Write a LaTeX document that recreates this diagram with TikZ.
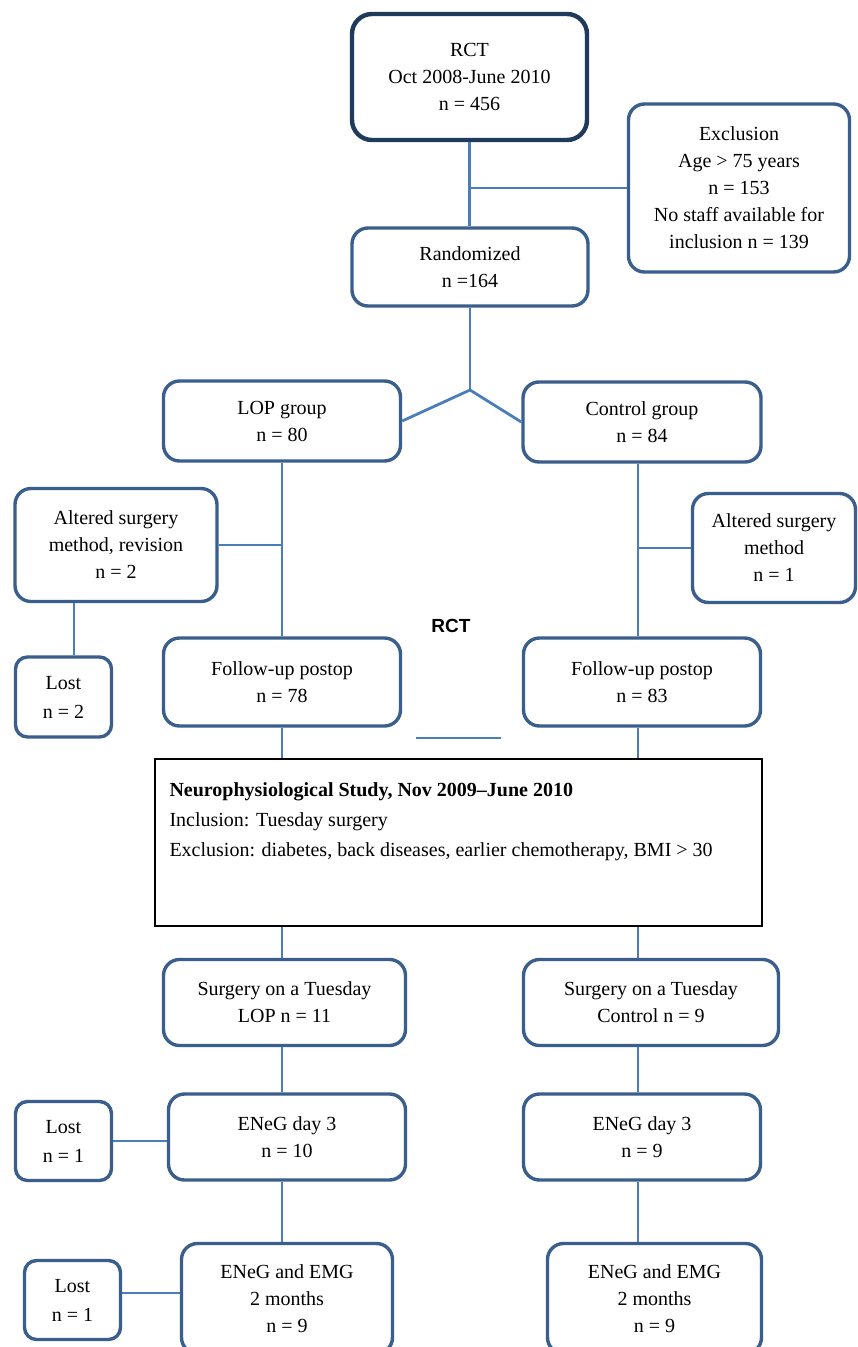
\documentclass[tikz,border=0pt]{standalone}
\usepackage{fontspec}
\setmainfont{Liberation Serif}
\setsansfont{Liberation Sans}
\usepackage{tikz}
\usetikzlibrary{shapes,arrows}
\usepackage{color}
\definecolor{boxblue}{HTML}{3A5F8D}
\definecolor{linkblue}{HTML}{4A7EBB}
\definecolor{rctnavy}{HTML}{1F3A5A}

\begin{document}
\begin{tikzpicture}[x=1pt, y=-1pt,
    box/.style={draw=boxblue, line width=3.4pt, rounded corners=16pt, align=center,
                inner sep=0pt, font=\fontsize{20}{27}\selectfont},
    link/.style={draw=linkblue, line width=2.8pt}]
                   % page
                   \useasboundingbox (0,0) rectangle (858,1347);
                   \clip (0,0) rectangle (858,1347);
                   \fill[white] (0,0) rectangle (858,1347);

                   % columns
                   \coordinate (lcol) at (282, 0);
                   \coordinate (ccol) at (638, 0);

                   % boxes, RCT part
                   \node[box, draw=rctnavy, line width=4.4pt, rounded corners=20pt,
                         minimum width=235pt, minimum height=126pt] (rct) at (469.5, 77)
                         {RCT\\Oct 2008-June 2010\\n = 456};
                   \node[box, minimum width=221pt, minimum height=168pt] (excl) at (739, 188)
                         {Exclusion\\Age > 75 years\\n = 153\\No staff available for\\inclusion n = 139};
                   \node[box, minimum width=236pt, minimum height=78pt] (rand) at (470, 267)
                         {Randomized\\n =164};
                   \coordinate (split) at (470, 390);
                   \node[box, minimum width=237pt, minimum height=80pt] (lop) at (282, 421)
                         {LOP group\\n = 80};
                   \node[box, minimum width=238pt, minimum height=80pt] (ctrl) at (642, 422)
                         {Control group\\n = 84};
                   \node[box, minimum width=202pt, minimum height=113pt] (altL) at (116, 545)
                         {Altered surgery\\method, revision\\n = 2};
                   \node[box, minimum width=163pt, minimum height=109pt] (altR) at (774, 548)
                         {Altered surgery\\method\\n = 1};
                   \node[box, rounded corners=12pt, minimum width=96pt, minimum height=80pt,
                         font=\fontsize{20}{29}\selectfont] (lost1) at (63.5, 697)
                         {Lost\\n = 2};
                   \node[box, minimum width=237pt, minimum height=88pt] (fuL) at (282, 682)
                         {Follow-up postop\\n = 78};
                   \node[box, minimum width=237pt, minimum height=88pt] (fuC) at (642, 682)
                         {Follow-up postop\\n = 83};
                   \node[font=\sffamily\bfseries\fontsize{19}{22}\selectfont] (rctlabel) at (451, 626) {RCT};
                   \coordinate (gapL) at (416, 738);
                   \coordinate (gapR) at (501, 738);

                   % neurophysiological study
                   \node[draw=black, line width=1.3pt, inner sep=0pt,
                         minimum width=607pt, minimum height=167pt] (study) at (458.5, 842.5)
                         {\begin{minipage}[c][119pt][t]{578pt}
                            \fontsize{20}{30}\selectfont
                            \textbf{Neurophysiological Study, Nov 2009--June 2010}\\
                            Inclusion: Tuesday surgery\\
                            Exclusion: diabetes, back diseases, earlier chemotherapy, BMI > 30
                          \end{minipage}};

                   % boxes, study part
                   \node[box, minimum width=242pt, minimum height=86pt] (surL) at (284.5, 1002.5)
                         {Surgery on a Tuesday\\LOP n = 11};
                   \node[box, minimum width=255pt, minimum height=86pt] (surC) at (651, 1002.5)
                         {Surgery on a Tuesday\\Control n = 9};
                   \node[box, minimum width=237pt, minimum height=86pt] (enL) at (287, 1137)
                         {ENeG day 3\\n = 10};
                   \node[box, rounded corners=12pt, minimum width=96pt, minimum height=79pt,
                         font=\fontsize{20}{29}\selectfont] (lost2) at (63.5, 1141)
                         {Lost\\n = 1};
                   \node[box, minimum width=237pt, minimum height=86pt] (enC) at (642, 1137)
                         {ENeG day 3\\n = 9};
                   \node[box, minimum width=211pt, minimum height=110pt] (emL) at (287, 1298.5)
                         {ENeG and EMG\\2 months\\n = 9};
                   \node[box, rounded corners=12pt, minimum width=96pt, minimum height=79pt,
                         font=\fontsize{20}{29}\selectfont] (lost3) at (72.5, 1300)
                         {Lost\\n = 1};
                   \node[box, minimum width=214pt, minimum height=110pt] (emC) at (654.5, 1298.5)
                         {ENeG and EMG\\2 months\\n = 9};

                   % connections
                   \draw[link] (rct.south) -- (rct.south |- rand.north);
                   \draw[link] (excl.west) -- (excl.west -| rct.south);
                   \draw[link] (rand.south) -- (split);
                   \draw[link] (split) -- (lop.east);
                   \draw[link] (split) -- (ctrl.west);
                   \draw[link] (lcol |- lop.south) -- (lcol |- fuL.north);
                   \draw[link] (ccol |- ctrl.south) -- (ccol |- fuC.north);
                   \draw[link] (altL.east) -- (altL.east -| lcol);
                   \draw[link] (altR.west) -- (altR.west -| ccol);
                   \draw[link] ([xshift=10.5pt]lost1.north) -- ([xshift=10.5pt]lost1.north |- altL.south);
                   \draw[link] (gapL) -- (gapR);
                   \draw[link] (lcol |- fuL.south) -- (lcol |- study.north);
                   \draw[link] (ccol |- fuC.south) -- (ccol |- study.north);
                   \draw[link] (lcol |- study.south) -- (lcol |- surL.north);
                   \draw[link] (ccol |- study.south) -- (ccol |- surC.north);
                   \draw[link] (lcol |- surL.south) -- (lcol |- enL.north);
                   \draw[link] (ccol |- surC.south) -- (ccol |- enC.north);
                   \draw[link] (lcol |- enL.south) -- (lcol |- emL.north);
                   \draw[link] (ccol |- enC.south) -- (ccol |- emC.north);
                   \draw[link] (lost2.east) -- (lost2.east -| enL.west);
                   \draw[link] ([yshift=7pt]lost3.east) -- ([yshift=7pt]lost3.east -| emL.west);
\end{tikzpicture}
\end{document}
